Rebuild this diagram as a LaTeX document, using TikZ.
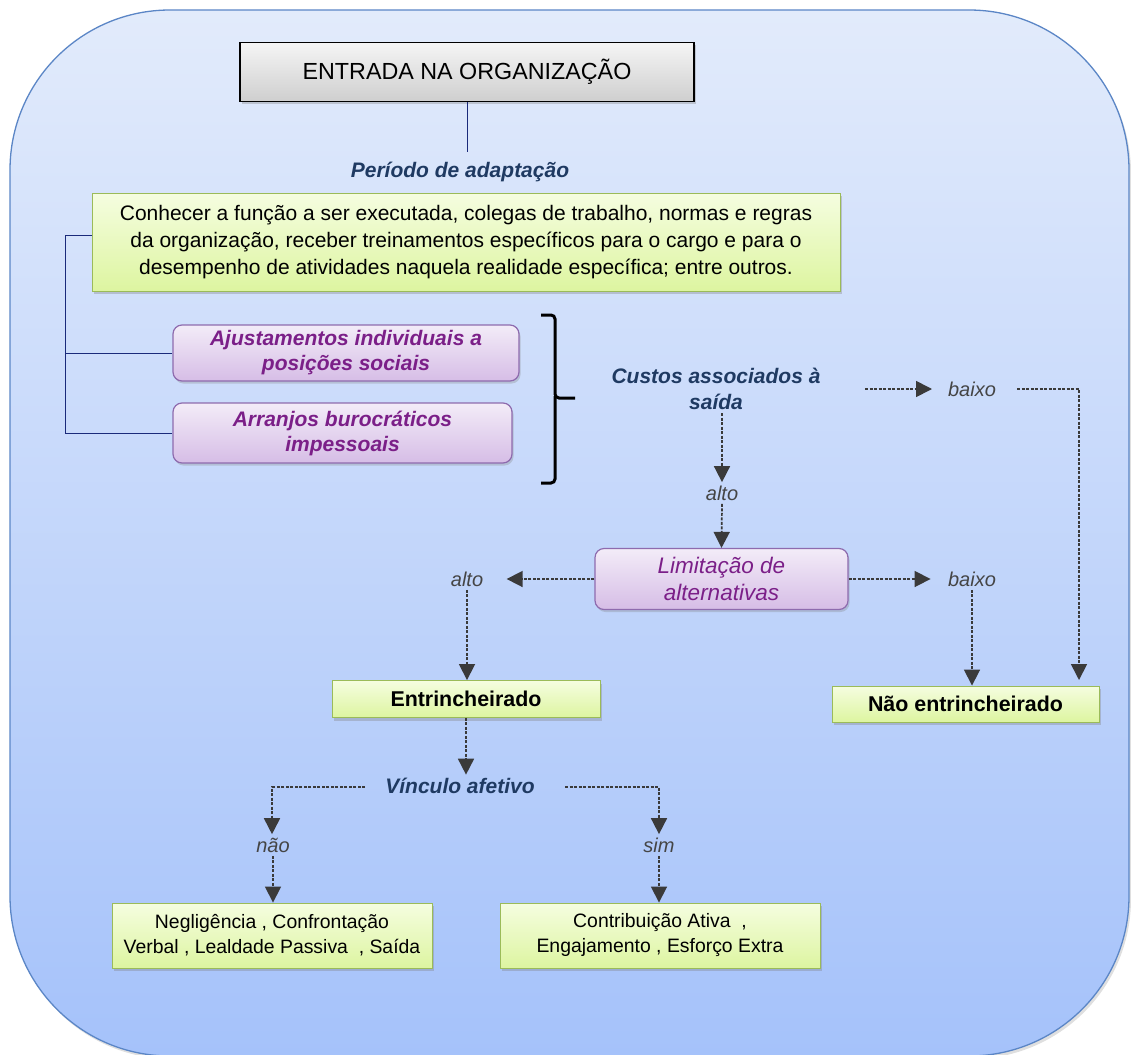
\documentclass[tikz,border=0pt]{standalone}
\usepackage{fontspec}
\setmainfont{Liberation Sans}
\usetikzlibrary{shadows,arrows.meta}
\definecolor{bgtop}{HTML}{E2EBFB}
\definecolor{bgbot}{HTML}{A5C2FA}
\definecolor{bgline}{HTML}{5B86C6}
\definecolor{navy}{HTML}{1F3A62}
\definecolor{purptext}{HTML}{7B1F88}
\definecolor{purpline}{HTML}{8E6BAE}
\definecolor{purptop}{HTML}{F3ECF8}
\definecolor{purpbot}{HTML}{D6BDE6}
\definecolor{greentop}{HTML}{F5FDE0}
\definecolor{greenbot}{HTML}{DDF5A0}
\definecolor{greenline}{HTML}{9BBB59}
\definecolor{labelgray}{HTML}{454545}
\definecolor{arrowgray}{HTML}{3A3A3A}
\definecolor{linkblue}{HTML}{1A2A7A}
\begin{document}
\begin{tikzpicture}[x=1pt,y=-1pt,
  titlebox/.style={draw=black, line width=1.2pt, top color=gray!8, bottom color=gray!38,
    minimum width=454pt, minimum height=59pt, font=\fontsize{23.3}{27}\selectfont,
    drop shadow={shadow xshift=2pt, shadow yshift=-3pt, opacity=0.35}},
  greenbox/.style={draw=greenline, line width=0.9pt, top color=greentop, bottom color=greenbot,
    align=center, font=\fontsize{21}{27}\selectfont,
    drop shadow={shadow xshift=2pt, shadow yshift=-3pt, opacity=0.35}},
  purpbox/.style={draw=purpline, line width=1.2pt, rounded corners=9pt, top color=purptop,
    bottom color=purpbot, align=center, text=purptext,
    drop shadow={shadow xshift=1.5pt, shadow yshift=-2.5pt, opacity=0.3}},
  headtext/.style={text=navy, font=\bfseries\itshape\fontsize{21}{26}\selectfont, align=center},
  choice/.style={text=labelgray, font=\itshape\fontsize{20}{22}\selectfont},
  flow/.style={draw=arrowgray, line width=1.7pt, dash pattern=on 3pt off 1.5pt,
    -{Triangle[length=16pt, width=16pt]}},
  link/.style={draw=linkblue, line width=0.7pt}
]
\useasboundingbox (0,0) rectangle (1131,1054);
% rounded backdrop
\draw[bgline, line width=1.3pt, rounded corners=160pt, top color=bgtop, bottom color=bgbot,
  drop shadow={shadow xshift=2pt, shadow yshift=-3pt, opacity=0.25}]
  (10,10) rectangle (1129,1056);

% top of the chart
\node[titlebox] (entrada) at (467,72) {ENTRADA NA ORGANIZAÇÃO};
\node[headtext] (periodo) at (460,172) {Período de adaptação};
\draw[link] (entrada.south) -- (467,152);

\node[greenbox, minimum width=748pt, minimum height=98pt] (conhecer) at (466,242)
  {Conhecer a função a ser executada, colegas de trabalho, normas e regras\\
   da organização, receber treinamentos específicos para o cargo e para o\\
   desempenho de atividades naquela realidade específica; entre outros.};

\node[purpbox, minimum width=346pt, minimum height=56pt,
  font=\bfseries\itshape\fontsize{21}{25}\selectfont] (ajust) at (346,353)
  {Ajustamentos individuais a\\posições sociais};
\node[purpbox, minimum width=339pt, minimum height=60pt,
  font=\bfseries\itshape\fontsize{21}{25}\selectfont] (arranjo) at (342.5,433)
  {Arranjos burocráticos\\impessoais};

% bracket joining the two boxes on the left
\coordinate (fork) at (65,235);
\draw[link] (conhecer.west |- fork) -- (fork) -- (65,433) -- (arranjo.west);
\draw[link] (65,353) -- (ajust.west);

% closing brace
\draw[black, line width=3pt, rounded corners=4pt]
  (541,315) -- (555,315) -- (555,398) -- (575,398);
\draw[black, line width=3pt, rounded corners=4pt]
  (555,396) -- (555,483) -- (541,483);

\node[headtext] (custos) at (716,389) {Custos associados à\\saída};
\node[choice] (baixo1) at (972,389) {baixo};
\node[choice] (alto1) at (722,493) {alto};

\node[purpbox, minimum width=253pt, minimum height=61pt,
  font=\itshape\fontsize{22.5}{27}\selectfont] (limit) at (721.5,579)
  {Limitação de\\alternativas};

\node[choice] (alto2) at (467,579) {alto};
\node[choice] (baixo2) at (972,579) {baixo};

\node[greenbox, minimum width=268pt, minimum height=37pt,
  font=\bfseries\fontsize{21.4}{24}\selectfont] (entr) at (466,699) {Entrincheirado};
\node[greenbox, minimum width=267pt, minimum height=36pt,
  font=\bfseries\fontsize{21.4}{24}\selectfont] (naoentr) at (965.5,704) {Não entrincheirado};

\node[headtext] (vinculo) at (460,786) {Vínculo afetivo};
\node[choice] (nao) at (273,845) {não};
\node[choice] (sim) at (659,845) {sim};

\node[greenbox, minimum width=320pt, minimum height=65pt,
  font=\fontsize{19.4}{25}\selectfont] (neglig) at (272,935.5)
  {Negligência , Confrontação\\Verbal , Lealdade Passiva \ , Saída};
\node[greenbox, minimum width=320pt, minimum height=65pt,
  font=\fontsize{19.4}{25}\selectfont] (contrib) at (660,935.5)
  {Contribuição Ativa \ ,\\Engajamento , Esforço Extra};

% dashed decision arrows
\coordinate (c1) at (865,389);
\coordinate (c1end) at (932,389);
\draw[flow] (c1) -- (c1end);
\coordinate (c2) at (1017,389);
\coordinate (c3) at (1079,389);
\draw[flow] (c2) -- (c3) -- (1079,680);
\draw[flow] (722,413) -- (alto1.north);
\draw[flow] (alto1.south) -- (limit.north);
\draw[flow] (limit.west) -- ([xshift=20pt]alto2.east);
\draw[flow] (limit.east) -- ([xshift=-14pt]baixo2.west);
\draw[flow] (alto2.south) -- (entr.north -| alto2.south);
\draw[flow] (baixo2.south) -- (baixo2.south |- naoentr.north);
\draw[flow] (entr.south) -- (vinculo.north -| entr.south);
\coordinate (v1) at (365,787);
\coordinate (v2) at (565,787);
\draw[flow] (v1) -- (272,787) -- (nao.north -| 272,787);
\draw[flow] (v2) -- (659,787) -- (sim.north);
\draw[flow] (nao.south) -- (nao.south |- neglig.north);
\draw[flow] (sim.south) -- (sim.south |- contrib.north);
\end{tikzpicture}
\end{document}
